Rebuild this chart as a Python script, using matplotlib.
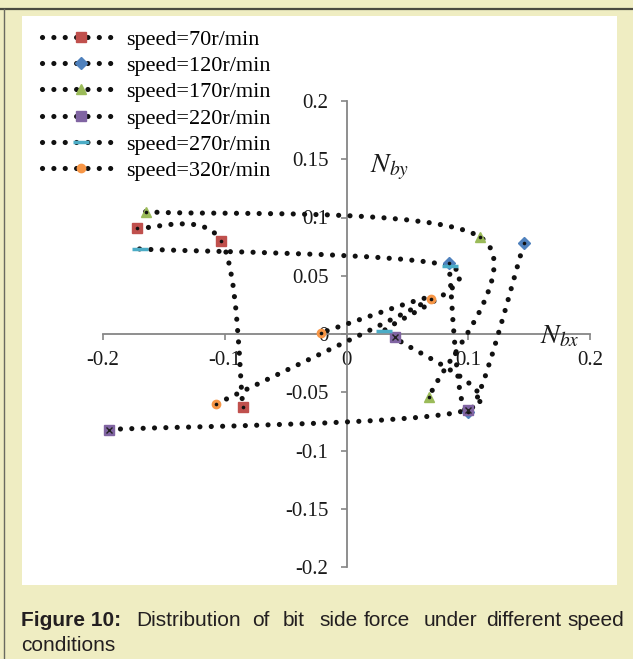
import numpy as np
import matplotlib
matplotlib.use("Agg")
import matplotlib.pyplot as plt
from matplotlib.path import Path
from matplotlib.patches import PathPatch, Rectangle
from matplotlib.lines import Line2D

# data (three points per speed)
labels = ["speed=70r/min", "speed=120r/min", "speed=170r/min",
          "speed=220r/min", "speed=270r/min", "speed=320r/min"]
x70 = [-0.172, -0.103, -0.085]
y70 = [0.091, 0.080, -0.063]
x120 = [0.084, 0.100, 0.146]
y120 = [0.061, -0.067, 0.078]
x170 = [-0.165, 0.110, 0.068]
y170 = [0.105, 0.083, -0.054]
x220 = [-0.195, 0.100, 0.040]
y220 = [-0.082, -0.065, -0.003]
x270 = [-0.170, 0.085, 0.031]
y270 = [0.073, 0.058, 0.003]
x320 = [-0.107, 0.069, -0.021]
y320 = [-0.060, 0.030, 0.001]

xticks = [-0.2, -0.1, 0, 0.1, 0.2]
yticks = [-0.2, -0.15, -0.1, -0.05, 0, 0.05, 0.1, 0.15, 0.2]

series = [(x70, y70), (x120, y120), (x170, y170), (x220, y220), (x270, y270), (x320, y320)]
colors = ["#c0504d", "#4f81bd", "#9bbb59", "#8064a2", "#4bacc6", "#f79646"]
markers = ["s", "D", "^", "s", "_", "o"]
msizes = [6.5, 6, 7, 7, 12, 6]

plt.rcParams["font.family"] = ["Liberation Serif", "DejaVu Serif"]
plt.rcParams["axes.unicode_minus"] = False
plt.rcParams["mathtext.fontset"] = "stix"

LW = 3.7
dots = (0, (0.01, 2.2))


def smooth_path(xs, ys):
    # excel style smoothed line : cubic bezier through the points
    pts = np.column_stack([xs, ys])
    n = len(pts)
    verts = [pts[0]]
    codes = [Path.MOVETO]
    for i in range(n - 1):
        p0 = pts[max(i - 1, 0)]
        p1 = pts[i]
        p2 = pts[i + 1]
        p3 = pts[min(i + 2, n - 1)]
        verts += [p1 + (p2 - p0) / 6, p2 - (p3 - p1) / 6, p2]
        codes += [Path.CURVE4] * 3
    return Path(verts, codes)


W, H = 633, 659
fig = plt.figure(figsize=(W / 100, H / 100), dpi=100, facecolor="#efedc2")

# white panel and frame lines
fig.patches.append(Rectangle((22 / W, 1 - 585 / H), 595 / W, 569 / H,
                             transform=fig.transFigure, facecolor="white", edgecolor="none", zorder=-5))
fig.add_artist(Line2D([0, 1], [1 - 9 / H, 1 - 9 / H], transform=fig.transFigure, color="#4a4a40", lw=1.6))
fig.add_artist(Line2D([4 / W, 4 / W], [0, 1 - 9 / H], transform=fig.transFigure, color="#6a6a60", lw=1.0))

ax = fig.add_axes([103 / W, 1 - 567 / H, 487 / W, 466 / H])
ax.set_facecolor("none")
ax.set_zorder(2)
ax.set_xlim(-0.2, 0.2)
ax.set_ylim(-0.2, 0.2)

for (xs, ys) in series:
    ax.add_patch(PathPatch(smooth_path(xs, ys), fill=False, edgecolor="#111111", lw=LW,
                           linestyle=dots, capstyle="round", zorder=3))

for k in range(len(series)):
    xs, ys = series[k]
    ax.plot(xs, ys, linestyle="none", marker=markers[k], ms=msizes[k], mfc=colors[k],
            mec=colors[k], mew=2.5 if markers[k] == "_" else 1.0, zorder=4)
    if k == 3:
        ax.plot(xs, ys, linestyle="none", marker="x", ms=4, mec="#222222", mew=1.0, zorder=5)
    elif markers[k] != "_":
        ax.plot(xs, ys, linestyle="none", marker="o", ms=2.6, mfc="#111111", mec="none", zorder=5)

for s in ["top", "right"]:
    ax.spines[s].set_visible(False)
ax.spines["left"].set_position(("data", 0))
ax.spines["bottom"].set_position(("data", 0))
for s in ["left", "bottom"]:
    ax.spines[s].set_color("#868686")
    ax.spines[s].set_linewidth(1.3)

ax.set_xticks(xticks)
ax.set_yticks(yticks)
ax.set_xticklabels(["%g" % v for v in xticks])
ax.set_yticklabels(["%g" % v for v in yticks])
ax.tick_params(axis="both", direction="out", length=4, width=1.2, color="#868686",
               labelsize=15, labelcolor="#1a1a1a")
ax.tick_params(axis="x", pad=8)
ax.tick_params(axis="y", pad=9)

ax.text(0.035, 0.143, "$N_{by}$", fontsize=20, ha="center", va="center", color="#1a1a1a")
ax.text(0.175, -0.002, "$N_{bx}$", fontsize=20, ha="center", va="center", color="#1a1a1a")

handles = []
for k in range(len(series)):
    handles.append(Line2D([], [], color="#111111", lw=LW, linestyle=dots, dash_capstyle="round",
                          marker=markers[k], ms=msizes[k], mfc=colors[k], mec=colors[k],
                          mew=2.5 if markers[k] == "_" else 1.0))
fig.legend(handles, labels, loc="upper left", bbox_to_anchor=(42 / W, 1 - 29 / H),
           frameon=False, fontsize=16, handlelength=3.5, handletextpad=0.3,
           labelspacing=0.26, borderpad=0, borderaxespad=0, numpoints=1)

# caption, justified by hand
cap_font = dict(family="Liberation Sans", fontsize=15, color="#231f20", va="baseline")
fig.text(21 / W, 1 - 626 / H, "Figure 10:", fontweight="bold", **cap_font)
words = ["Distribution", "of", "bit", "side", "force", "under", "different", "speed"]
word_x = [136, 252, 283, 319, 364, 424, 486, 567]
for w, xp in zip(words, word_x):
    fig.text(xp / W, 1 - 626 / H, w, **cap_font)
fig.text(21 / W, 1 - 651 / H, "conditions", **cap_font)

plt.savefig("out.png", dpi=100, facecolor=fig.get_facecolor())
